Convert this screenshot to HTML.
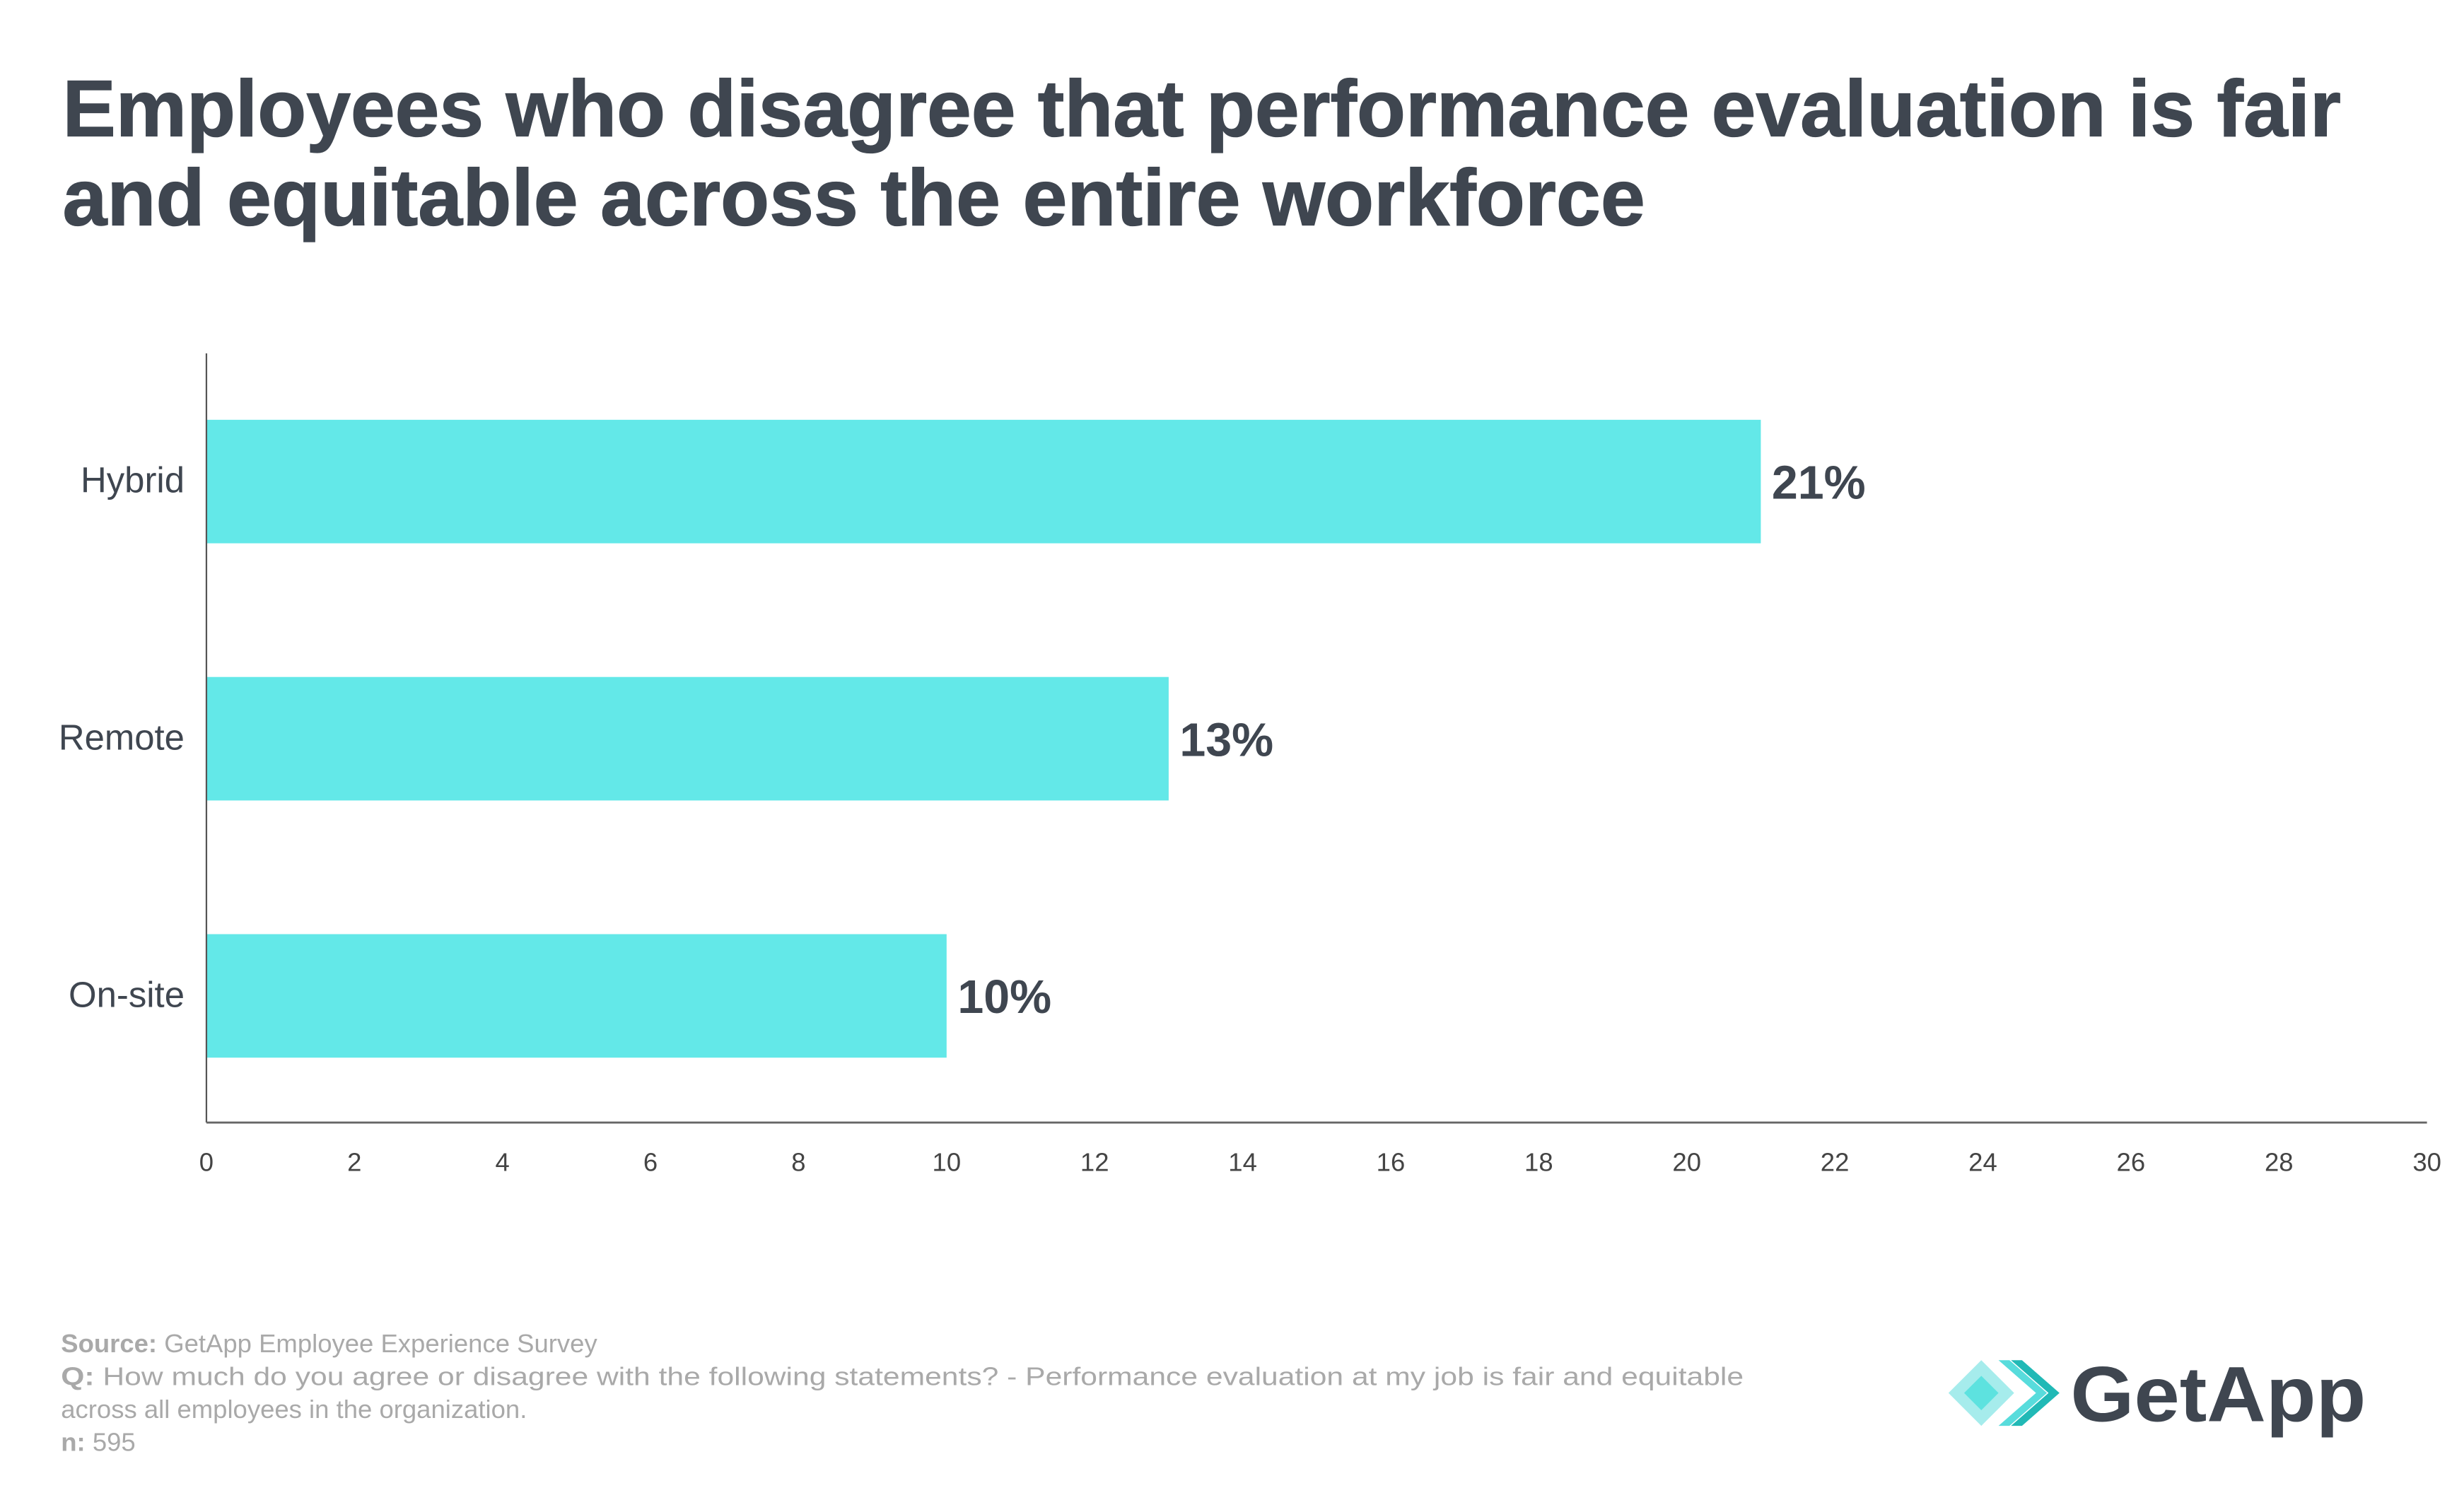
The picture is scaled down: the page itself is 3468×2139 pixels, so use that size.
<!DOCTYPE html>
<html><head><meta charset="utf-8"><style>
html,body{margin:0;padding:0;background:#fff;}
svg{display:block;}
text{font-family:"Liberation Sans",sans-serif;}
</style></head><body>
<svg id="chart" width="3468" height="2139" viewBox="0 0 1568 967.1" xmlns="http://www.w3.org/2000/svg">
<rect width="1568" height="967.1" fill="#fff"/>
<text x="40" y="87" font-size="51" font-weight="600" fill="#3f4650" stroke="#3f4650" stroke-width="0.6" textLength="1457" lengthAdjust="spacingAndGlyphs">Employees who disagree that performance evaluation is fair</text>
<text x="40" y="144" font-size="51" font-weight="600" fill="#3f4650" stroke="#3f4650" stroke-width="0.6" textLength="1012" lengthAdjust="spacingAndGlyphs">and equitable across the entire workforce</text>
<g id="plot"></g>
<g font-size="16.5" fill="#a9a9a9">
<text x="39" y="865"><tspan font-weight="bold">Source:</tspan> GetApp Employee Experience Survey</text>
<text x="39" y="886" textLength="1076" lengthAdjust="spacingAndGlyphs"><tspan font-weight="bold">Q:</tspan> How much do you agree or disagree with the following statements?  - Performance evaluation at my job is fair and equitable</text>
<text x="39" y="907">across all employees in the organization.</text>
<text x="39" y="928"><tspan font-weight="bold">n:</tspan> 595</text>
</g>
<g>
<polygon points="1267,870 1288,891 1267,912 1246,891" fill="#a6ecec"/>
<polygon points="1278,870 1302,891 1278,912 1285,912 1309,891 1285,870" fill="#2ed3d3" opacity="0.8"/>
<polygon points="1267,880 1278,891 1267,902 1256,891" fill="#5de2df"/>
<polygon points="1293,870 1317,891 1293,912 1300,912 1324,891 1300,870" fill="#21b9b6" transform="translate(-7,0)"/>
<text x="1324" y="909" font-size="50" font-weight="bold" fill="#3f4650" textLength="189" lengthAdjust="spacingAndGlyphs">GetApp</text>
</g>
</svg>
<script>
const categories = ["Hybrid", "Remote", "On-site"];
const values = [21, 13, 10];
const valueLabels = ["21%", "13%", "10%"];
const xTicks = [0, 2, 4, 6, 8, 10, 12, 14, 16, 18, 20, 22, 24, 26, 28, 30];

const NS = "http://www.w3.org/2000/svg";
const plot = document.getElementById("plot");
const x0 = 132, x1 = 1552, xMax = 30;
const yTop = 226, yBottom = 718, firstCenter = 308, step = 164.5, barH = 79;
function xScale(v){ return x0 + (v / xMax) * (x1 - x0); }
function yScale(i){ return firstCenter + i * step; }
function mk(tag, attrs){ const e = document.createElementNS(NS, tag); for (const k in attrs) e.setAttribute(k, attrs[k]); return e; }

categories.forEach((c, i) => {
  const cy = yScale(i);
  const bar = mk("rect", {x: x0, y: cy - barH/2, width: xScale(values[i]) - x0, height: barH, fill: "#63e8e8"});
  
  
  plot.appendChild(bar);
  const lab = mk("text", {x: 118, y: cy + 7, "text-anchor": "end", "font-size": 23, fill: "#3f4650"});
  lab.textContent = c;
  
  
  plot.appendChild(lab);
  const vl = mk("text", {x: xScale(values[i]) + 7, y: cy + 11, "font-size": 30, "font-weight": "bold", fill: "#3f4650"});
  vl.textContent = valueLabels[i];
  
  
  plot.appendChild(vl);
});

const yAxis = mk("line", {x1: x0, y1: yTop, x2: x0, y2: yBottom, stroke: "#555", "stroke-width": 1});


plot.appendChild(yAxis);
const xAxis = mk("line", {x1: x0, y1: yBottom, x2: x1, y2: yBottom, stroke: "#666", "stroke-width": 1.3});


plot.appendChild(xAxis);

xTicks.forEach(t => {
  const tl = mk("text", {x: xScale(t), y: 749, "text-anchor": "middle", "font-size": 16.5, fill: "#444"});
  tl.textContent = String(t);
  
  
  plot.appendChild(tl);
});
</script>
</body></html>
